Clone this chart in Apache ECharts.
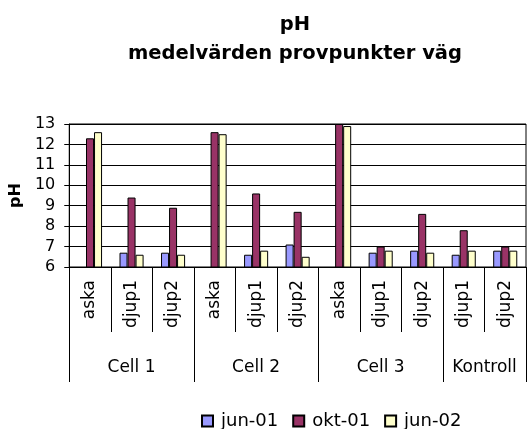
<!DOCTYPE html>
<html>
<head>
<meta charset="utf-8">
<script src="https://cdn.jsdelivr.net/npm/echarts@6/dist/echarts.min.js"></script>
<style>html,body{margin:0;padding:0;background:#fff;}#c{width:527px;height:429px;}</style>
</head>
<body>
<div id="c"></div>
<script>
const categories = ['aska','djup1','djup2','aska','djup1','djup2','aska','djup1','djup2','djup1','djup2'];
const groups = ['Cell 1','Cell 2','Cell 3','Kontroll'];
const groupSizes = [3,3,3,2];
const jun01 = [null, 6.7, 6.7, null, 6.6, 7.1, null, 6.7, 6.8, 6.6, 6.8];
const okt01 = [12.3, 9.4, 8.9, 12.6, 9.6, 8.7, 13.0, 7.0, 8.6, 7.8, 7.0];
const jun02 = [12.6, 6.6, 6.6, 12.5, 6.8, 6.5, 12.9, 6.8, 6.7, 6.8, 6.8];
const yTicks = [6,7,8,9,10,11,12,13];

// build half-category slots for the group axis
const total = groupSizes.reduce((a,b)=>a+b,0);
const groupSlots = new Array(total*2+1).fill('');
const groupBounds = [0];
let pos = 0;
groups.forEach((g,i)=>{
  groupSlots[pos + groupSizes[i]] = g;
  pos += groupSizes[i]*2;
  groupBounds.push(pos);
});

const FONT = 'DejaVu Sans';
const chart = echarts.init(document.getElementById('c'), null, {renderer:'canvas'});
chart.setOption({
  animation:false,
  backgroundColor:'#fff',
  title:{
    text:'pH\nmedelvärden provpunkter väg',
    left:290, top:5, textAlign:'center',
    textStyle:{fontFamily:FONT, fontWeight:'bold', fontSize:19.5, lineHeight:29, color:'#000'}
  },
  legend:{
    top:407, left:196,
    icon:'rect', itemWidth:11, itemHeight:11, itemGap:14,
    textStyle:{fontFamily:FONT, fontSize:18, color:'#000', padding:[0,0,0,3]},
    data:['jun-01','okt-01','jun-02']
  },
  grid:{left:68, right:1, top:124, bottom:162, show:true, borderColor:'#000', borderWidth:1},
  xAxis:[{
    type:'category', data:categories, position:'bottom',
    axisLine:{lineStyle:{color:'#000', width:1}},
    axisTick:{show:true, interval:0, length:65, lineStyle:{color:'#000'}},
    axisLabel:{interval:0, rotate:90, margin:13, fontFamily:FONT, fontSize:17, color:'#000'}
  },{
    type:'category', data:groupSlots, position:'bottom', boundaryGap:false,
    axisLine:{show:false},
    axisTick:{show:true, length:115, lineStyle:{color:'#000'},
      interval:(idx)=>groupBounds.indexOf(idx)>=0},
    axisLabel:{interval:(idx,val)=>val!=='', margin:92, fontFamily:FONT, fontSize:17, color:'#000'}
  }],
  yAxis:{
    type:'value', min:yTicks[0], max:yTicks[yTicks.length-1], interval:1,
    name:'pH', nameLocation:'middle', nameGap:42, nameRotate:90,
    nameTextStyle:{fontFamily:FONT, fontWeight:'bold', fontSize:16, color:'#000'},
    axisLine:{show:true, lineStyle:{color:'#000'}},
    axisTick:{show:true, length:5, lineStyle:{color:'#000'}},
    axisLabel:{margin:14, fontFamily:FONT, fontSize:16, color:'#000'},
    splitLine:{lineStyle:{color:'#000', width:1}}
  },
  series:[
    {name:'jun-01', type:'bar', data:jun01, barGap:'0%', barCategoryGap:'42%',
     itemStyle:{color:'#9999FF', borderColor:'#000', borderWidth:1}},
    {name:'okt-01', type:'bar', data:okt01, barGap:'0%', barCategoryGap:'42%',
     itemStyle:{color:'#993366', borderColor:'#000', borderWidth:1}},
    {name:'jun-02', type:'bar', data:jun02, barGap:'0%', barCategoryGap:'42%',
     itemStyle:{color:'#FFFFCC', borderColor:'#000', borderWidth:1}}
  ]
});
</script>
</body>
</html>
